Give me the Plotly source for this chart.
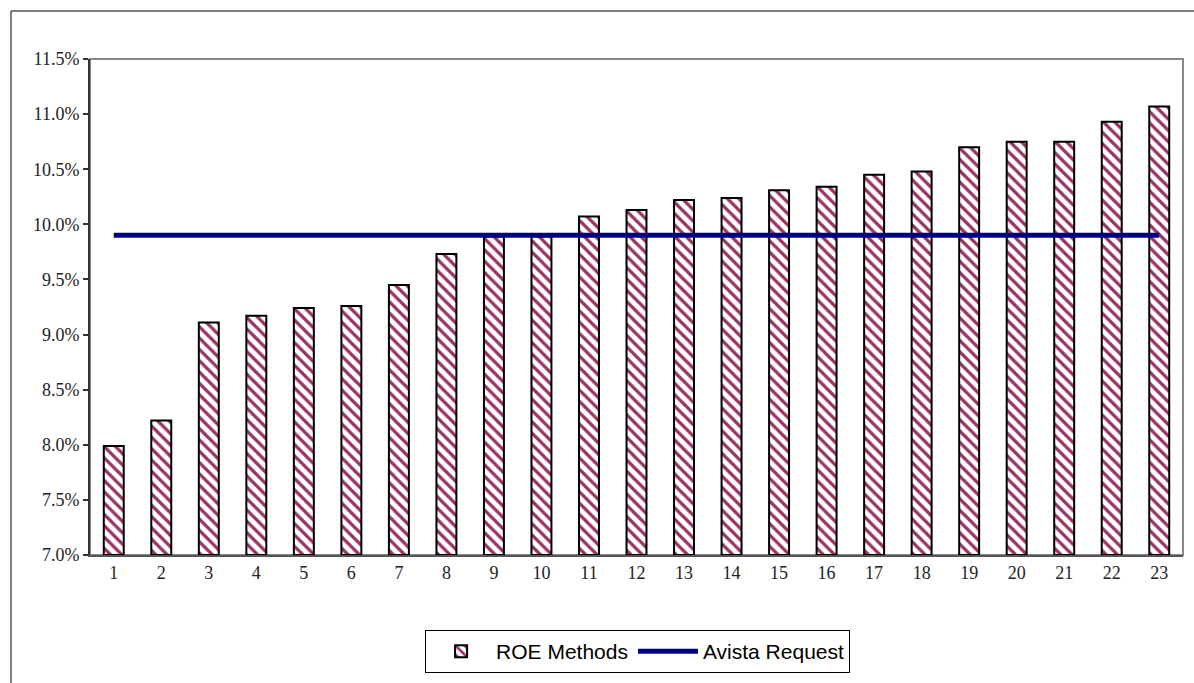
import plotly.graph_objects as go

categories = [str(i) for i in range(1, 24)]
roe_methods = [0.0799, 0.0822, 0.0911, 0.0917, 0.0924, 0.0926, 0.0945, 0.0973,
               0.0989, 0.0989, 0.1007, 0.1013, 0.1022, 0.1024, 0.1031, 0.1034,
               0.1045, 0.1048, 0.1070, 0.1075, 0.1075, 0.1093, 0.1107]
avista_request_value = 0.099
avista_request = [avista_request_value] * len(categories)
y_ticks = [0.070, 0.075, 0.080, 0.085, 0.090, 0.095, 0.100, 0.105, 0.110, 0.115]

fig = go.Figure()
fig.add_trace(go.Bar(
    x=categories, y=[v - 0.07 for v in roe_methods], base=0.07,
    name="ROE Methods", width=0.42,
    marker=dict(color="white", line=dict(color="black", width=2),
                pattern=dict(shape="\\", fgcolor="#993366", bgcolor="white",
                             size=8, solidity=0.4, fgopacity=1)),
    hoverinfo="skip",
))
fig.add_trace(go.Scatter(
    x=categories, y=avista_request, name="Avista Request", mode="lines",
    line=dict(color="#000080", width=5),
))

W, H = 1194, 683
L, R, T, B = 90, 1183, 59, 555
pw, ph = R - L, B - T

def px2x(p):
    return (p - L) / pw

def py2y(p):
    return (B - p) / ph

tick_font = dict(family="Liberation Serif, Times New Roman", size=18, color="#222222")

fig.update_layout(
    width=W, height=H,
    margin=dict(l=L, r=W - R, t=T, b=H - B, autoexpand=False),
    paper_bgcolor="white", plot_bgcolor="white",
    showlegend=True,
    legend=dict(orientation="h", x=0.501, xanchor="center", y=py2y(630), yanchor="top",
                bordercolor="black", borderwidth=1,
                font=dict(family="Liberation Sans, Arial", size=21, color="black"),
                itemwidth=60),
    xaxis=dict(type="category", range=[-0.5, 22.5], showgrid=False,
               showline=True, linecolor="#555555", linewidth=2, ticks="",
               tickfont=tick_font),
    yaxis=dict(range=[0.07, 0.115], tickvals=y_ticks, tickformat=".1%", showgrid=False,
               showline=True, linecolor="#333333", linewidth=2, ticks="outside",
               ticklen=5, tickcolor="#333333", tickwidth=1.5,
               tickfont=tick_font),
    shapes=[
        dict(type="rect", xref="paper", yref="paper", x0=0, x1=1, y0=0, y1=1,
             line=dict(color="#888888", width=2), layer="below"),
        dict(type="rect", xref="paper", yref="paper", x0=px2x(11), x1=px2x(1200),
             y0=py2y(700), y1=py2y(11), line=dict(color="black", width=1), layer="below"),
    ],
)

fig.write_html("out.html", config={"displayModeBar": False},
               post_script="document.body.style.margin='0';")
